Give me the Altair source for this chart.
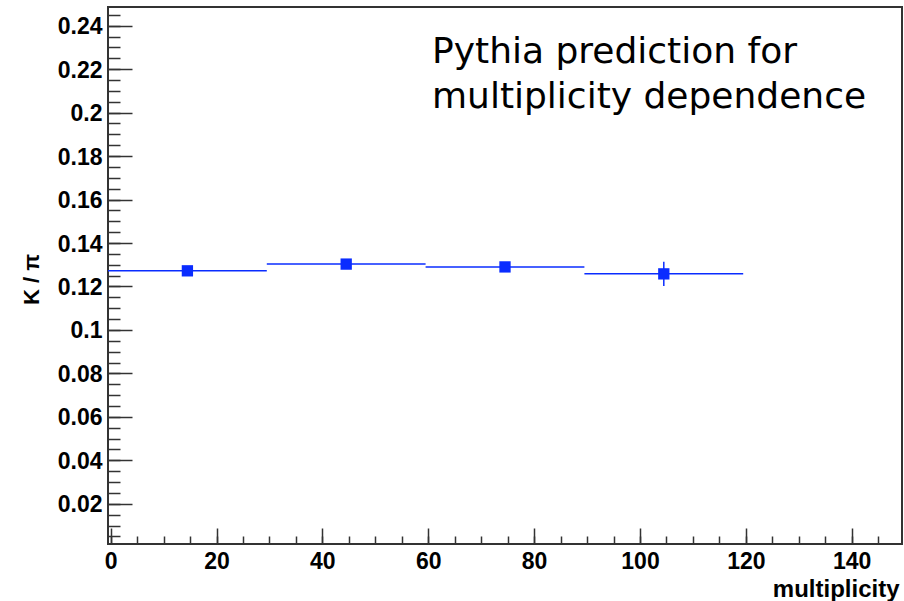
import altair as alt
import pandas as pd

# ---- data ----
bin_lo = [-0.5, 29.5, 59.5, 89.5]
bin_hi = [29.5, 59.5, 89.5, 119.5]
bin_center = [14.5, 44.5, 74.5, 104.5]
k_over_pi = [0.1272, 0.1303, 0.1290, 0.1258]
k_over_pi_err = [0.0015, 0.0015, 0.0018, 0.0056]

x_label_values = [0, 20, 40, 60, 80, 100, 120, 140]
x_minor_values = [0, 5, 10, 15, 20, 25, 30, 35, 40, 45, 50, 55, 60, 65, 70, 75,
                  80, 85, 90, 95, 100, 105, 110, 115, 120, 125, 130, 135, 140, 145]
y_label_values = [0.02, 0.04, 0.06, 0.08, 0.10, 0.12, 0.14, 0.16, 0.18, 0.20, 0.22, 0.24]
y_minor_values = [round(0.005 * i, 3) for i in range(1, 50)]

note_lines = ["Pythia prediction for", "multiplicity dependence"]
x_title = "multiplicity"
y_title = "K / \u03c0"

X_DOMAIN = [-0.5, 149.5]
Y_DOMAIN = [0.0015, 0.2486]
W, H = 794, 537
BLUE = "#0a2cff"
FRAME = "#333333"
NOTE_FONT = "DejaVu Sans"
AXIS_FONT = "Liberation Sans"

df = pd.DataFrame({
    "lo": bin_lo,
    "hi": bin_hi,
    "center": bin_center,
    "val": k_over_pi,
    "err": k_over_pi_err,
})
df["elo"] = df["val"] - df["err"]
df["ehi"] = df["val"] + df["err"]

xs = alt.Scale(domain=X_DOMAIN, nice=False, zero=False)
ys = alt.Scale(domain=Y_DOMAIN, nice=False, zero=False)

label_common = dict(
    grid=False, domain=False, ticks=False,
    labelFont=AXIS_FONT, labelFontSize=23, labelFontWeight="bold", labelColor="black",
    labelFlush=False, labelOverlap=False,
    titleFont=AXIS_FONT, titleFontWeight="bold", titleColor="black",
)

tick_common = dict(
    grid=False, domain=False, labels=False, title=None,
    tickColor=FRAME, tickWidth=1.5,
)

# layer 1: bin lines + labelled axes
lines = alt.Chart(df).mark_rule(color=BLUE, strokeWidth=1.5).encode(
    x=alt.X("lo:Q", scale=xs, axis=alt.Axis(
        orient="bottom", values=x_label_values, format="d", labelPadding=6,
        title=x_title, titleFontSize=24, titleX=791, titleY=52, titleAlign="right",
        titleBaseline="alphabetic", **label_common)),
    x2="hi:Q",
    y=alt.Y("val:Q", scale=ys, axis=alt.Axis(
        orient="left", values=y_label_values, format=".2~f", labelPadding=6,
        labelOffset=1,
        title=y_title, titleFontSize=22, titleX=-70, titleY=272, titleAngle=270,
        titleAlign="center", titleBaseline="alphabetic", **label_common)),
)

# layer 2: error bars + major ticks (inside the frame)
errs = alt.Chart(df).mark_rule(color=BLUE, strokeWidth=1.5).encode(
    x=alt.X("center:Q", scale=xs, axis=alt.Axis(
        orient="top", offset=-H, values=x_label_values, tickSize=16, **tick_common)),
    y=alt.Y("elo:Q", scale=ys, axis=alt.Axis(
        orient="right", offset=-W, values=y_label_values, tickSize=24, **tick_common)),
    y2="ehi:Q",
)

# layer 3: markers + minor ticks
points = alt.Chart(df).mark_square(color=BLUE, size=128, opacity=1, filled=True).encode(
    x=alt.X("center:Q", scale=xs, axis=alt.Axis(
        orient="top", offset=-H, values=x_minor_values, tickSize=8, **tick_common)),
    y=alt.Y("val:Q", scale=ys, axis=alt.Axis(
        orient="right", offset=-W, values=y_minor_values, tickSize=12, **tick_common)),
)

# layer 4: annotation
note = alt.Chart(pd.DataFrame({"k": [0]})).mark_text(
    align="left", baseline="alphabetic", font=NOTE_FONT, fontSize=36,
    lineHeight=44.5, color="black",
).encode(
    x=alt.value(324),
    y=alt.value(56),
    text=alt.value(note_lines),
)

chart = alt.layer(lines, errs, points, note).resolve_axis(
    x="independent", y="independent"
).properties(
    width=W, height=H,
    padding={"left": 108, "top": 7, "right": 2, "bottom": 57},
    autosize=alt.AutoSizeParams(type="none"),
    background="white",
).configure_view(stroke=FRAME, strokeWidth=2)

chart.save("out.html", embed_options={"renderer": "svg", "actions": False})
